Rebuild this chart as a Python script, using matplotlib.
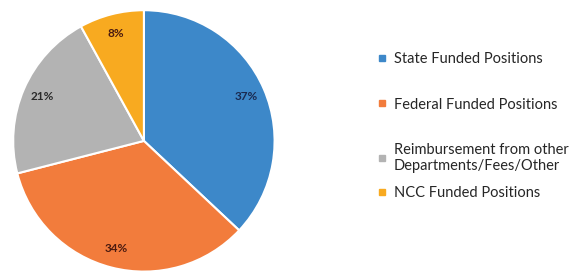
import matplotlib
matplotlib.use("Agg")
import matplotlib.pyplot as plt
from matplotlib.lines import Line2D

categories = ["State Funded Positions", "Federal Funded Positions",
              "Reimbursement from other\nDepartments/Fees/Other", "NCC Funded Positions"]
values = [37, 34, 21, 8]
colors = ["#3d88c9", "#f27c3c", "#b3b3b3", "#f8aa20"]
label_colors = ["#1a2a50", "#4a1a10", "#2a2a2a", "#4a1a10"]

plt.rcParams['font.family'] = ['Lato', 'DejaVu Sans']

fig = plt.figure(figsize=(5.71, 2.72), dpi=100)
ax = fig.add_axes([0.252 - 0.2312, 0.482 - 0.4853, 0.4624, 0.9706])
wedges, texts, autotexts = ax.pie(values, colors=colors, startangle=90, counterclock=False,
                                  autopct=lambda p: f"{p:.0f}%", pctdistance=0.85,
                                  wedgeprops=dict(edgecolor="white", linewidth=1.5),
                                  textprops=dict(fontsize=8.5, fontweight="bold"))
for t, c in zip(autotexts, label_colors):
    t.set_color(c)
ax.set_xlim(-1.01, 1.01)
ax.set_ylim(-1.01, 1.01)
ax.set_aspect("equal")

handles = [Line2D([0], [0], marker="s", linestyle="none", markersize=4,
                  markerfacecolor=c, markeredgecolor=c) for c in colors]
common = dict(frameon=False, fontsize=10.5, handlelength=0.5, handletextpad=0.55, borderpad=0)
leg1 = fig.legend(handles[:3], categories[:3], loc="upper left", bbox_to_anchor=(0.65, 0.835),
                  labelspacing=2.15, **common)
leg2 = fig.legend(handles[3:], categories[3:], loc="upper left", bbox_to_anchor=(0.65, 0.343),
                  **common)
for leg in (leg1, leg2):
    for t in leg.get_texts():
        t.set_color("#262626")

fig.savefig("out.png", dpi=100)
